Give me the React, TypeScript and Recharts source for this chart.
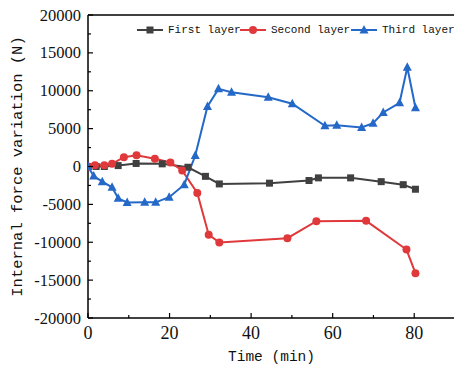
import React from "react";
import {
  LineChart,
  Line,
  XAxis,
  YAxis,
  ReferenceLine,
} from "recharts";

// time (min) / internal force variation (N)
const FIRST_TIME = [0, 2, 4, 7.4, 11.8, 18.2, 24.5, 28.8, 32.2, 44.5, 54.2, 56.5, 64.4, 71.9, 77.3, 80.3];
const FIRST_FORCE = [0, 0, 0, 120, 400, 350, -100, -1300, -2300, -2200, -1850, -1500, -1500, -2000, -2400, -3000];

const SECOND_TIME = [0, 1.7, 4, 5.9, 8.8, 11.9, 16.4, 20.2, 23.1, 26.8, 29.6, 32.2, 48.9, 56, 68.2, 78.1, 80.3];
const SECOND_FORCE = [0, 180, 180, 350, 1230, 1480, 1010, 530, -530, -3500, -9000, -10030, -9460, -7220, -7170, -10960, -14080];

const THIRD_TIME = [0, 1.4, 3.5, 5.9, 7.4, 9.6, 13.9, 16.6, 19.9, 23.6, 26.3, 29.3, 32, 35.2, 44.2, 50.1, 58.1, 61, 67.1, 69.9, 72.4, 76.4, 78.3, 80.3];
const THIRD_FORCE = [0, -1250, -2000, -2750, -4200, -4750, -4730, -4730, -4050, -2400, 1450, 7920, 10250, 9810, 9150, 8280, 5370, 5450, 5150, 5720, 7130, 8410, 13110, 7750];

const X_TICKS = [0, 10, 20, 30, 40, 50, 60, 70, 80, 90];
const Y_TICKS = [-20000, -17500, -15000, -12500, -10000, -7500, -5000, -2500, 0, 2500, 5000, 7500, 10000, 12500, 15000, 17500, 20000];

const toPoints = (t: number[], f: number[]) => t.map((x, i) => ({ time: x, force: f[i] }));

const SERIES = [
  { name: "First layer", color: "#404040", shape: "square", data: toPoints(FIRST_TIME, FIRST_FORCE) },
  { name: "Second layer", color: "#e0393b", shape: "circle", data: toPoints(SECOND_TIME, SECOND_FORCE) },
  { name: "Third layer", color: "#2468c8", shape: "triangle", data: toPoints(THIRD_TIME, THIRD_FORCE) },
];

const SERIF = "Liberation Serif, Times New Roman, serif";
const MONO = "Liberation Mono, DejaVu Sans Mono, monospace";

const Marker = ({ shape, color, cx, cy }: any) => {
  if (shape === "square") {
    return <rect x={cx - 3.5} y={cy - 3.5} width={7} height={7} fill={color} />;
  }
  if (shape === "circle") {
    return <circle cx={cx} cy={cy} r={4} fill={color} />;
  }
  return (
    <polygon
      points={`${cx},${cy - 5} ${cx - 4.5},${cy + 3.5} ${cx + 4.5},${cy + 3.5}`}
      fill={color}
    />
  );
};

const YTick = ({ x, y, payload }: any) => {
  const major = payload.value % 5000 === 0;
  return (
    <g>
      <line x1={x} y1={y} x2={x + (major ? 5 : 3)} y2={y} stroke="#000" strokeWidth={1.2} />
      {major && (
        <text x={x - 7} y={y + 5.5} textAnchor="end" style={{ fontFamily: SERIF, fontSize: 16.5 }} fill="#111">
          {payload.value}
        </text>
      )}
    </g>
  );
};

const XTick = ({ x, y, payload }: any) => {
  const major = payload.value % 20 === 0;
  if (payload.value === 90) return null;
  return (
    <g>
      <line x1={x} y1={y} x2={x} y2={y - (major ? 5 : 3)} stroke="#000" strokeWidth={1.2} />
      {major && (
        <text x={x} y={y + 21} textAnchor="middle" style={{ fontFamily: SERIF, fontSize: 18 }} fill="#111">
          {payload.value}
        </text>
      )}
    </g>
  );
};

const LegendIcon = ({ shape, color }: any) => (
  <svg width={26} height={10} style={{ display: "block" }}>
    <line x1={0} y1={5} x2={26} y2={5} stroke={color} strokeWidth={2} />
    <Marker shape={shape} color={color} cx={13} cy={5} />
  </svg>
);

const LEGEND_LEFT = [137, 240, 351];

export default function App() {
  return (
    <div
      style={{
        position: "fixed",
        left: 0,
        top: 0,
        width: 454,
        height: 367,
        overflow: "hidden",
        background: "#fff",
      }}
    >
      <LineChart width={462} height={367} margin={{ top: 15, right: 7, bottom: 0, left: 0 }}>
        <XAxis
          type="number"
          dataKey="time"
          domain={[0, 90]}
          ticks={X_TICKS}
          interval={0}
          tick={<XTick />}
          tickLine={false}
          tickSize={0}
          tickMargin={0}
          height={49}
          axisLine={{ stroke: "#000", strokeWidth: 1.5 }}
          allowDataOverflow
          label={{
            value: "Time (min)",
            position: "insideBottom",
            offset: 6,
            style: { fontFamily: MONO, fontSize: 14.5 },
            fill: "#111",
          }}
        />
        <YAxis
          type="number"
          dataKey="force"
          domain={[-20000, 20000]}
          ticks={Y_TICKS}
          interval={0}
          tick={<YTick />}
          tickLine={false}
          tickSize={0}
          tickMargin={0}
          width={88}
          axisLine={{ stroke: "#000", strokeWidth: 1.5 }}
          allowDataOverflow
          label={{
            value: "Internal force variation (N)",
            angle: -90,
            position: "insideLeft",
            offset: 16,
            fill: "#111",
            style: { textAnchor: "middle", fontFamily: MONO, fontSize: 15.5 },
          }}
        />
        <ReferenceLine y={20000} stroke="#000" strokeWidth={1.5} ifOverflow="visible" />
        {SERIES.map((s) => (
          <Line
            key={s.name}
            data={s.data}
            dataKey="force"
            name={s.name}
            type="linear"
            stroke={s.color}
            strokeWidth={2}
            isAnimationActive={false}
            dot={(p: any) => (
              <Marker key={`${s.name}-${p.index}`} shape={s.shape} color={s.color} cx={p.cx} cy={p.cy} />
            )}
            activeDot={false}
          />
        ))}
      </LineChart>
      {SERIES.map((s, i) => (
        <div
          key={s.name}
          style={{
            position: "absolute",
            left: LEGEND_LEFT[i],
            top: 24,
            display: "flex",
            alignItems: "center",
            gap: 5,
            fontFamily: MONO,
            fontSize: 11,
            color: "#111",
            whiteSpace: "nowrap",
          }}
        >
          <LegendIcon shape={s.shape} color={s.color} />
          <span>{s.name}</span>
        </div>
      ))}
    </div>
  );
}
